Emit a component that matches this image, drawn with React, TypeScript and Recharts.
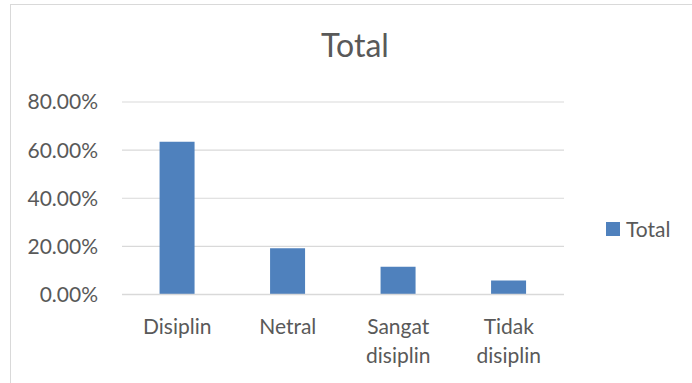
import React from 'react'
import { BarChart, Bar, XAxis, YAxis, CartesianGrid } from 'recharts'

const categories = ['Disiplin', 'Netral', 'Sangat disiplin', 'Tidak disiplin']
const totals = [0.635, 0.192, 0.115, 0.058]
const yTicks = [0, 0.2, 0.4, 0.6, 0.8]

const data = categories.map((name, i) => ({ name, Total: totals[i] }))

const TEXT = '#595959'
const GRID = '#d9d9d9'
const BAR = '#4f81bd'
const FONT = 'Lato, "Open Sans", sans-serif'

// category labels wrap onto two lines like the spreadsheet does
function CategoryTick({ x, y, payload }: any) {
  const words = String(payload.value).split(' ')
  return (
    <text x={x} y={y} textAnchor="middle" fill={TEXT} fontSize={21} fontFamily={FONT}>
      {words.map((w, i) => (
        <tspan key={i} x={x} y={y + 39.5 + i * 29}>
          {w}
        </tspan>
      ))}
    </text>
  )
}

export default function App() {
  return (
    <div style={{ position: 'absolute', left: 0, top: 0, width: 692, height: 383, overflow: 'hidden', background: '#fff' }}>
      <div
        style={{
          position: 'absolute',
          left: 10,
          top: 4,
          width: 720,
          height: 420,
          border: `1px solid ${GRID}`,
        }}
      />
      <div
        style={{
          position: 'absolute',
          left: 355,
          top: 29,
          transform: 'translateX(-50%)',
          fontFamily: FONT,
          fontSize: 32,
          lineHeight: '32px',
          color: TEXT,
          whiteSpace: 'nowrap',
        }}
      >
        Total
      </div>
      <div style={{ position: 'absolute', left: 0, top: 0 }}>
        <BarChart
          width={692}
          height={383}
          data={data}
          margin={{ top: 102, right: 128, left: 22, bottom: 0 }}
          barCategoryGap="34%"
        >
          <CartesianGrid stroke={GRID} strokeWidth={1.2} vertical={false} />
          <XAxis
            dataKey="name"
            axisLine={{ stroke: GRID, strokeWidth: 1.5 }}
            tickLine={false}
            tickSize={0}
            tickMargin={0}
            interval={0}
            height={88.5}
            tick={<CategoryTick />}
          />
          <YAxis
            width={100}
            domain={[0, 0.8]}
            ticks={yTicks}
            axisLine={false}
            tickLine={false}
            tickSize={0}
            tickMargin={24}
            tickFormatter={(v: number) => `${(v * 100).toFixed(2)}%`}
            tick={{ fill: TEXT, fontSize: 21, fontFamily: FONT }}
          />
          <Bar dataKey="Total" fill={BAR} isAnimationActive={false} />
        </BarChart>
      </div>
      <div
        style={{
          position: 'absolute',
          left: 606,
          top: 216,
          display: 'flex',
          alignItems: 'center',
          fontFamily: FONT,
          fontSize: 21,
          lineHeight: '26px',
          color: TEXT,
        }}
      >
        <span style={{ width: 14, height: 14, background: BAR, marginRight: 6, display: 'inline-block' }} />
        <span>Total</span>
      </div>
    </div>
  )
}
